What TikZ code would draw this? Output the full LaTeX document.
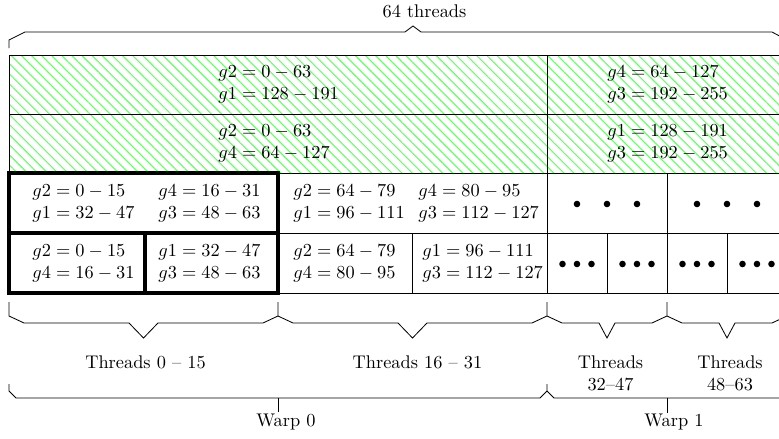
\documentclass[tikz,border=0pt]{standalone}
\usetikzlibrary{patterns,patterns.meta}
\begin{document}
\begin{tikzpicture}[x=0.545pt,y=-0.545pt,
  gridline/.style={line width=0.5pt},
  thickbox/.style={line width=1.8pt},
  hatchfill/.style={pattern={Lines[angle=-45,distance=3.9pt,line width=0.6pt]}, pattern color=green!60},
  bracepath/.style={line width=0.45pt, line join=miter},
  cell/.style={inner sep=0pt, align=left, anchor=west},
  lbl/.style={inner sep=0pt, align=center},
  dotmark/.style={fill=black}
]
\useasboundingbox (0,0) rectangle (779,439);
\clip (0,0) rectangle (779,439);

% hatched rows
\fill[hatchfill] (9,55) rectangle (787,173);
\draw[gridline] (9,55) rectangle (787,173);
\draw[gridline] (9,114) -- (787,114);
\draw[gridline] (547,55) -- (547,293);

% lower rows, thin lines
\draw[gridline] (278,233) -- (787,233);
\draw[gridline] (278,293) -- (787,293);
\draw[gridline] (667,173) -- (667,293);
\draw[gridline] (412,233) -- (412,293);
\draw[gridline] (607,233) -- (607,293);
\draw[gridline] (727,233) -- (727,293);
\draw[gridline] (787,173) -- (787,293);

% thick boxes
\draw[thickbox] (9,173) rectangle (278,233);
\draw[thickbox] (9,233) rectangle (145,293);
\draw[thickbox] (145,233) rectangle (278,293);

% hatched cell texts
\node[cell] (r1a) at (218,84.5) {$g2 = 0 - 63$\\$g1 = 128 - 191$};
\node[cell] (r1b) at (607,84.5) {$g4 = 64 - 127$\\$g3 = 192 - 255$};
\node[cell] (r2a) at (218,143.5) {$g2 = 0 - 63$\\$g4 = 64 - 127$};
\node[cell] (r2b) at (607,143.5) {$g1 = 128 - 191$\\$g3 = 192 - 255$};

% row 3
\node[cell] (r3a) at (32,203) {$g2 = 0 - 15$\\$g1 = 32 - 47$};
\node[cell] (r3b) at (158,203) {$g4 = 16 - 31$\\$g3 = 48 - 63$};
\node[cell] (r3c) at (293,203) {$g2 = 64 - 79$\\$g1 = 96 - 111$};
\node[cell] (r3d) at (418,203) {$g4 = 80 - 95$\\$g3 = 112 - 127$};

% row 4
\node[cell] (r4a) at (32,263) {$g2 = 0 - 15$\\$g4 = 16 - 31$};
\node[cell] (r4b) at (158,263) {$g1 = 32 - 47$\\$g3 = 48 - 63$};
\node[cell] (r4c) at (293,263) {$g2 = 64 - 79$\\$g4 = 80 - 95$};
\node[cell] (r4d) at (422,263) {$g1 = 96 - 111$\\$g3 = 112 - 127$};

% dots row 3
\foreach \cx in {607,727}{
  \foreach \dx in {-30,0,30}{
    \fill[dotmark] (\cx+\dx,204) circle (3.3);
  }
}
% dots row 4
\foreach \cx in {577,637,697,757}{
  \foreach \dx in {-14.5,0,14.5}{
    \fill[dotmark] (\cx+\dx,264) circle (3.3);
  }
}

% top brace
\draw[bracepath] (9,48) -- (9,40) -- (25,32) -- (405,32) -- (413,26) -- (421,32) -- (772,32) -- (787,40) -- (787,48);
\node[lbl, anchor=south] (top) at (424.5,18) {64 threads};

% thread braces
\draw[bracepath] (9,302) -- (9,316) -- (24,323) -- (129,323) -- (143.5,338) -- (158,323) -- (263,323) -- (278,316) -- (278,302);
\draw[bracepath] (278,316) -- (293,323) -- (398,323) -- (412.5,338) -- (427,323) -- (532,323) -- (547,316) -- (547,302);
\draw[bracepath] (547,316) -- (562,323) -- (599,323) -- (607,338) -- (615,323) -- (652,323) -- (667,316) -- (667,302);
\draw[bracepath] (667,316) -- (682,323) -- (719,323) -- (727,338) -- (735,323) -- (772,323) -- (787,316) -- (787,302);

\node[lbl, anchor=north] (t0) at (145.5,355) {Threads 0 -- 15};
\node[lbl, anchor=north] (t1) at (417.5,355) {Threads 16 -- 31};
\node[lbl, anchor=north] (t2) at (610.5,355) {Threads\\32--47};
\node[lbl, anchor=north] (t3) at (730,355) {Threads\\48--63};

% warp braces
\draw[bracepath] (9,384) -- (9,391) -- (16,398) -- (540,398) -- (547,391) -- (547,384);
\draw[bracepath] (547,391) -- (554,398) -- (780,398) -- (787,391) -- (787,384);
\draw[bracepath] (278,398) -- (278,412);
\draw[bracepath] (667,398) -- (667,413);

\node[lbl, anchor=north] (w0) at (286,414) {Warp 0};
\node[lbl, anchor=north] (w1) at (674,414) {Warp 1};
\end{tikzpicture}
\end{document}
